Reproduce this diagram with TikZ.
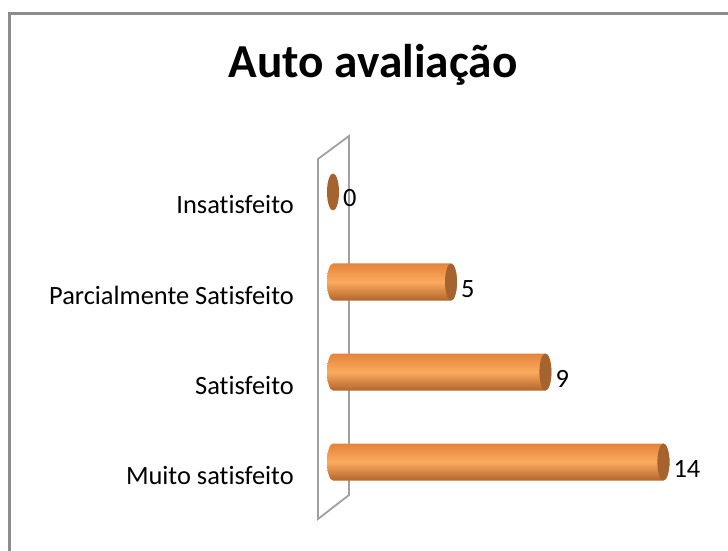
\documentclass[tikz,border=0pt]{standalone}
\usepackage{fontspec}
\setmainfont{Carlito}[Ligatures=NoCommon]
\usepackage{xcolor}
\definecolor{framegray}{HTML}{8C8C8C}
\definecolor{wallgray}{HTML}{A0A0A0}
\definecolor{bartop}{HTML}{E4843A}
\definecolor{barmid}{HTML}{FCAA5E}
\definecolor{barbot}{HTML}{B2652C}
\definecolor{barcap}{HTML}{A5642F}
\tikzset{
  frame/.style={draw=framegray, line width=2.6bp},
  wall/.style={draw=wallgray, line width=1.8bp},
  heading/.style={anchor=base, inner sep=0pt, font=\fontsize{47.5}{55}\selectfont\bfseries},
  cat/.style={anchor=base east, inner sep=0pt, font=\fontsize{26.5}{30}\selectfont},
  val/.style={anchor=base west, inner sep=0pt, font=\fontsize{26.5}{30}\selectfont},
  barbody/.style={top color=bartop, bottom color=barbot, middle color=barmid},
  barend/.style={fill=barcap}
}
\begin{document}
\begin{tikzpicture}[x=1bp, y=-1bp]
    \useasboundingbox (0,0) rectangle (728,551);
    % chart frame (right and bottom edges are cut off)
    \draw[frame] (9.5,551) -- (9.5,13.5) -- (728,13.5);
    \node[heading] (title) at (373,78) {Auto avaliação};

    % back wall
    \draw[wall] (318,519) -- (318,159) -- (349,136) -- (349,495) -- cycle;

    % bars
    \foreach \v/\k/\lab in {0/0/Insatisfeito, 5/1/Parcialmente Satisfeito,
                            9/2/Satisfeito, 14/3/Muito satisfeito} {
        \pgfmathsetmacro\yc{192+90*\k}
        \pgfmathsetmacro\xe{333+23.6*\v}
        \node[cat] (cat\k) at (294,\yc+22) {\lab};
        \ifnum\v>0
            \shade[barbody] (333,\yc-18.5) -- (\xe,\yc-18.5)
                arc[start angle=-90, end angle=90, x radius=6, y radius=18.5]
                -- (333,\yc+18.5)
                arc[start angle=90, end angle=270, x radius=6, y radius=18.5] -- cycle;
        \fi
        \fill[barend] (\xe,\yc) ellipse (6 and 18.5);
        \node[val] (val\k) at (\xe+10,\yc+15) {\v};
    }
\end{tikzpicture}
\end{document}
